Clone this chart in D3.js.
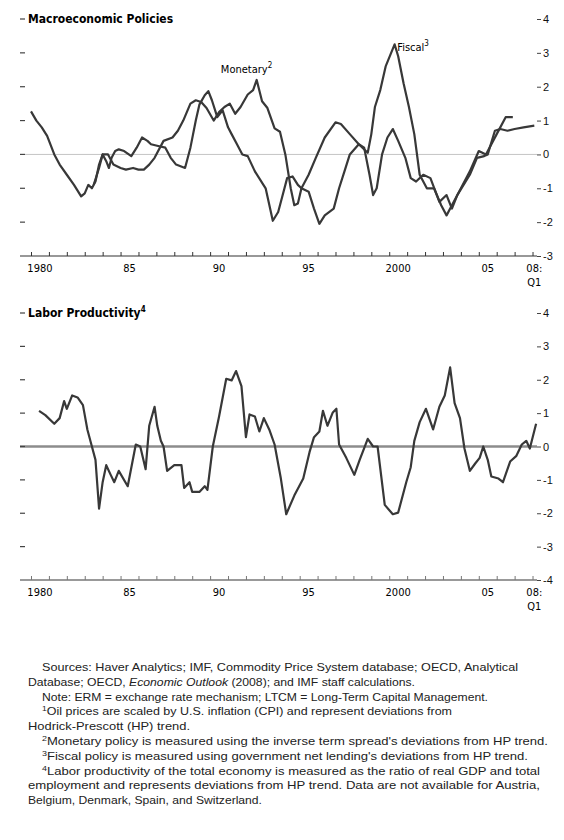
<!DOCTYPE html>
<meta charset="utf-8">
<title>Macroeconomic Policies and Labor Productivity</title>
<style>
body { margin: 0; background: #fff; }
svg { display: block; font-family: "Liberation Sans Narrow", "DejaVu Sans Condensed", "Liberation Sans", sans-serif; }
.title { font-weight: bold; font-size: 12px; }
.axis text { font-size: 11px; fill: #111; }
.note { font-family: "Liberation Sans", sans-serif; font-size: 11px; fill: #222; }
.series { fill: none; stroke: #383838; stroke-width: 2.2; stroke-linejoin: round; }
</style>
<svg width="564" height="840"></svg>
<script src="https://d3js.org/d3.v7.min.js"></script>
<script>
// x labels (placed mid-year)
const labelYears = [1980, 1985, 1990, 1995, 2000, 2005];
const labelText = ["1980", "85", "90", "95", "2000", "05"];
const tickYears = d3.range(1980, 2009);

const topTicks = [-3, -2, -1, 0, 1, 2, 3, 4];
const bottomTicks = [-4, -3, -2, -1, 0, 1, 2, 3, 4];

// [year, deviation]
const fiscal = [
  [1980.0,1.27],[1980.3,1.0],[1980.6,0.8],[1980.9,0.55],[1981.3,0.0],[1981.6,-0.3],[1982.0,-0.6],
  [1982.4,-0.9],[1982.8,-1.24],[1983.0,-1.15],[1983.2,-0.9],[1983.4,-1.0],[1983.6,-0.8],[1983.8,-0.3],
  [1984.0,0.0],[1984.2,-0.2],[1984.35,-0.4],[1984.5,-0.1],[1984.7,0.1],[1984.9,0.15],[1985.2,0.1],
  [1985.6,-0.05],[1985.9,0.2],[1986.2,0.5],[1986.5,0.4],[1986.7,0.3],[1987.1,0.25],[1987.5,0.2],
  [1987.8,-0.1],[1988.1,-0.3],[1988.6,-0.4],[1988.9,0.2],[1989.2,1.0],[1989.4,1.47],[1989.7,1.75],
  [1989.9,1.87],[1990.1,1.6],[1990.4,1.1],[1990.7,1.3],[1991.0,0.8],[1991.2,0.6],[1991.5,0.3],
  [1991.8,0.0],[1992.1,-0.05],[1992.5,-0.5],[1993.1,-1.0],[1993.5,-1.96],[1993.8,-1.7],[1994.0,-1.3],
  [1994.3,-0.7],[1994.6,-0.65],[1994.9,-0.9],[1995.1,-1.0],[1995.5,-1.1],[1995.8,-1.6],[1996.1,-2.05],
  [1996.4,-1.8],[1996.9,-1.6],[1997.2,-1.0],[1997.5,-0.5],[1997.8,0.0],[1998.3,0.3],[1998.8,0.05],
  [1999.0,0.6],[1999.2,1.4],[1999.5,1.9],[1999.8,2.6],[2000.3,3.25],[2000.5,2.9],[2000.8,2.1],
  [2001.1,1.4],[2001.4,0.6],[2001.7,-0.6],[2002.1,-1.0],[2002.5,-1.0],[2002.9,-1.5],[2003.2,-1.8],
  [2003.5,-1.5],[2003.9,-1.1],[2004.5,-0.5],[2005.0,0.1],[2005.4,0.0],[2006.0,0.6],[2006.5,1.1],
  [2006.9,1.1]
];

const monetary = [
  [1983.5,-0.9],[1983.8,-0.4],[1984.0,0.0],[1984.3,0.0],[1984.6,-0.3],[1985.0,-0.4],[1985.3,-0.45],
  [1985.7,-0.4],[1986.0,-0.45],[1986.3,-0.45],[1986.6,-0.3],[1986.9,-0.1],[1987.4,0.4],[1987.9,0.5],
  [1988.2,0.7],[1988.5,1.0],[1988.9,1.5],[1989.2,1.6],[1989.5,1.55],[1989.8,1.37],[1990.2,1.0],
  [1990.5,1.25],[1990.8,1.4],[1991.1,1.5],[1991.4,1.2],[1991.7,1.4],[1992.1,1.77],[1992.4,1.9],
  [1992.6,2.2],[1992.9,1.57],[1993.2,1.37],[1993.6,0.77],[1993.9,0.67],[1994.2,0.0],[1994.5,-1.0],
  [1994.7,-1.5],[1994.9,-1.45],[1995.1,-1.0],[1995.5,-0.6],[1995.9,-0.1],[1996.4,0.5],[1997.0,0.95],
  [1997.3,0.9],[1997.8,0.6],[1998.3,0.3],[1998.6,0.2],[1998.9,-0.6],[1999.1,-1.2],[1999.3,-1.0],
  [1999.6,0.0],[1999.9,0.5],[2000.2,0.75],[2000.5,0.4],[2000.9,-0.1],[2001.2,-0.7],[2001.5,-0.8],
  [2001.9,-0.6],[2002.3,-0.7],[2002.8,-1.4],[2003.2,-1.2],[2003.5,-1.6],[2003.8,-1.2],[2004.5,-0.6],
  [2004.9,-0.1],[2005.3,-0.05],[2005.5,0.0],[2005.9,0.7],[2006.2,0.75],[2006.6,0.7],[2007.0,0.75],
  [2007.5,0.8],[2008.1,0.85]
];

const productivity = [
  [1980.45,1.07],[1980.8,0.94],[1981.3,0.68],[1981.6,0.85],[1981.85,1.36],[1982.0,1.13],[1982.3,1.53],
  [1982.6,1.47],[1982.9,1.24],[1983.15,0.5],[1983.4,0.0],[1983.6,-0.4],[1983.8,-1.86],[1984.0,-1.07],
  [1984.2,-0.56],[1984.45,-0.85],[1984.65,-1.07],[1984.9,-0.73],[1985.4,-1.19],[1985.85,0.06],
  [1986.1,0.0],[1986.4,-0.68],[1986.6,0.62],[1986.9,1.19],[1987.05,0.62],[1987.25,0.17],[1987.4,0.0],
  [1987.6,-0.73],[1988.0,-0.56],[1988.4,-0.56],[1988.55,-1.24],[1988.85,-1.07],[1989.0,-1.36],
  [1989.4,-1.36],[1989.7,-1.19],[1989.85,-1.3],[1990.15,0.0],[1990.5,0.9],[1990.9,2.03],[1991.2,1.98],
  [1991.45,2.26],[1991.75,1.81],[1992.0,0.28],[1992.2,0.96],[1992.5,0.9],[1992.75,0.45],[1993.0,0.85],
  [1993.3,0.51],[1993.6,0.06],[1993.95,-0.96],[1994.25,-2.03],[1994.7,-1.47],[1995.2,-0.96],
  [1995.55,-0.17],[1995.8,0.28],[1996.1,0.45],[1996.3,1.07],[1996.55,0.62],[1996.85,1.02],[1997.05,1.13],
  [1997.2,0.06],[1997.6,-0.34],[1998.05,-0.85],[1998.35,-0.4],[1998.8,0.23],[1999.1,0.0],[1999.35,0.0],
  [1999.75,-1.75],[2000.2,-2.03],[2000.5,-1.98],[2000.95,-1.07],[2001.2,-0.62],[2001.4,0.17],
  [2001.7,0.73],[2002.05,1.13],[2002.45,0.51],[2002.8,1.19],[2003.1,1.53],[2003.4,2.37],[2003.65,1.3],
  [2003.95,0.85],[2004.2,-0.06],[2004.5,-0.73],[2004.8,-0.51],[2005.05,-0.34],[2005.25,0.0],
  [2005.5,-0.4],[2005.7,-0.9],[2006.1,-0.96],[2006.35,-1.07],[2006.75,-0.45],[2007.1,-0.28],
  [2007.4,0.06],[2007.65,0.17],[2007.85,-0.06],[2008.2,0.68]
];

// footnotes: segments [text, style]
const notes = [
  { indent: true,  parts: [["Sources: Haver Analytics; IMF, Commodity Price System database; OECD, Analytical"]] },
  { indent: false, parts: [["Database; OECD, "], ["Economic Outlook", "i"], [" (2008); and IMF staff calculations."]] },
  { indent: true,  parts: [["Note: ERM = exchange rate mechanism; LTCM = Long-Term Capital Management."]] },
  { indent: true,  parts: [["1", "sup"], ["Oil prices are scaled by U.S. inflation (CPI) and represent deviations from"]] },
  { indent: false, parts: [["Hodrick-Prescott (HP) trend."]] },
  { indent: true,  parts: [["2", "sup"], ["Monetary policy is measured using the inverse term spread's deviations from HP trend."]] },
  { indent: true,  parts: [["3", "sup"], ["Fiscal policy is measured using government net lending's deviations from HP trend."]] },
  { indent: true,  parts: [["4", "sup"], ["Labor productivity of the total economy is measured as the ratio of real GDP and total"]] },
  { indent: false, parts: [["employment and represents deviations from HP trend. Data are not available for Austria,"]] },
  { indent: false, parts: [["Belgium, Denmark, Spain, and Switzerland."]] }
];
// right end of each footnote line, as set in the original
const noteEnds = [518, 415, 488, 452, 190, 548, 528, 540, 540, 262];

const svg = d3.select("svg");
const x = d3.scaleLinear().domain([1980, 2008.25]).range([31, 537]);
const leftX = 20, rightX = 537;

function panel(opts) {
  const y = d3.scaleLinear().domain(opts.domain).range(opts.range);
  const g = svg.append("g");

  // zero line
  g.append("line")
    .attr("x1", leftX).attr("x2", rightX)
    .attr("y1", y(0)).attr("y2", y(0))
    .attr("stroke", opts.zeroColor).attr("stroke-width", opts.zeroWidth);

  // left ticks
  g.selectAll(".lt").data(opts.ticks.filter(d => d > opts.domain[0]))
    .enter().append("line")
    .attr("x1", leftX).attr("x2", leftX + 5)
    .attr("y1", d => y(d)).attr("y2", d => y(d))
    .attr("stroke", "#444").attr("stroke-width", 1.2);

  // right axis
  const ax = g.append("g").attr("class", "axis")
    .attr("transform", `translate(${rightX},0)`)
    .call(d3.axisRight(y).tickValues(opts.ticks).tickSize(4).tickPadding(2).tickFormat(d => String(d)));
  ax.select(".domain").remove();
  ax.selectAll(".tick line").attr("stroke", "#444");

  // x axis at bottom
  const base = y(opts.domain[0]);
  const xa = g.append("g").attr("class", "axis")
    .attr("transform", `translate(0,${base})`)
    .call(d3.axisTop(x).tickValues(tickYears).tickSize(4).tickFormat(""));
  xa.select(".domain").remove();
  xa.selectAll(".tick line").attr("stroke", opts.axisColor);
  g.append("line")
    .attr("x1", leftX).attr("x2", rightX)
    .attr("y1", base).attr("y2", base)
    .attr("stroke", opts.axisColor).attr("stroke-width", opts.axisWidth);

  g.selectAll(".xl").data(labelYears)
    .enter().append("text")
    .attr("x", d => x(d + 0.5))
    .attr("y", base + 16)
    .attr("text-anchor", "middle")
    .style("font-size", "11px")
    .text((d, i) => labelText[i]);
  g.append("text").attr("x", x(2008.1)).attr("y", base + 16)
    .attr("text-anchor", "middle").style("font-size", "11px").text("08:");
  g.append("text").attr("x", x(2008.1)).attr("y", base + 30)
    .attr("text-anchor", "middle").style("font-size", "11px").text("Q1");

  // title
  const t = g.append("text").attr("class", "title")
    .attr("x", leftX + 8).attr("y", y(opts.domain[1]) + 4)
    .text(opts.title);
  if (opts.titleSup) t.append("tspan").attr("dy", -5).style("font-size", "8px").text(opts.titleSup);

  const line = d3.line().x(d => x(d[0])).y(d => y(d[1]));
  opts.series.forEach(s => {
    g.append("path").datum(s.data).attr("class", "series")
      .attr("stroke-width", opts.lineWidth).attr("d", line);
  });
  return y;
}

const yTop = panel({
  domain: [-3, 4], range: [256, 19], ticks: topTicks,
  title: "Macroeconomic Policies",
  zeroColor: "#c4c4c4", zeroWidth: 1,
  axisColor: "#333", axisWidth: 1.2, lineWidth: 2.3,
  series: [{ data: fiscal }, { data: monetary }]
});

function seriesLabel(txt, sup, px, py) {
  const t = svg.append("text").attr("x", px).attr("y", py)
    .style("font-size", "11px").text(txt);
  t.append("tspan").attr("dy", -5).style("font-size", "8px").text(sup);
}
seriesLabel("Monetary", "2", x(1990.6), yTop(2.4));
seriesLabel("Fiscal", "3", x(2000.45), yTop(3.05));

panel({
  domain: [-4, 4], range: [580, 313], ticks: bottomTicks,
  title: "Labor Productivity", titleSup: "4",
  zeroColor: "#8c8c8c", zeroWidth: 2.5,
  axisColor: "#777", axisWidth: 1.5, lineWidth: 2.5,
  series: [{ data: productivity }]
});

// footnotes
const noteTop = 671, noteStep = 14.8;
notes.forEach((n, i) => {
  const x0 = n.indent ? 42 : 28;
  const t = svg.append("text").attr("class", "note")
    .attr("x", x0).attr("y", noteTop + i * noteStep);
  n.parts.forEach((p, j) => {
    const sp = t.append("tspan").text(p[0]);
    if (p[1] === "i") sp.style("font-style", "italic");
    if (p[1] === "sup") sp.style("font-size", "7.5px").attr("dy", -4);
    else if (j > 0 && n.parts[j - 1][1] === "sup") sp.attr("dy", 4);
  });
  t.attr("textLength", noteEnds[i] - x0).attr("lengthAdjust", "spacingAndGlyphs");
});
</script>
